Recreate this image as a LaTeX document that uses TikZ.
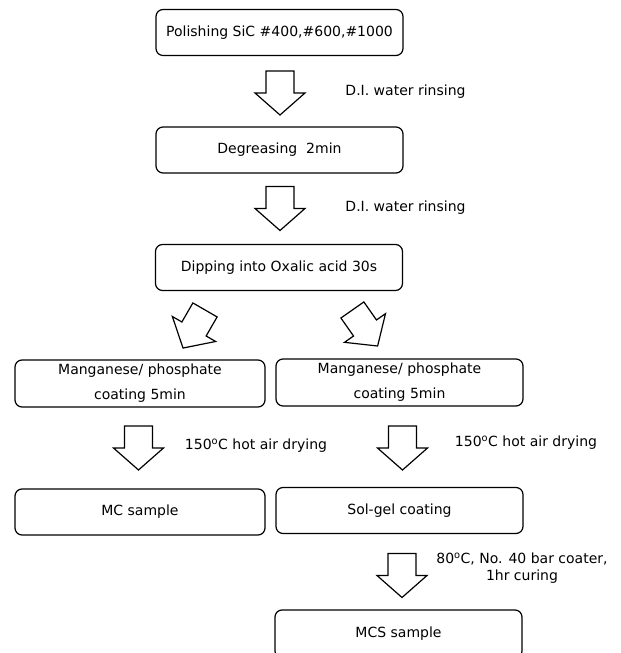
\documentclass[tikz,border=0pt]{standalone}
\usepackage{fontspec}
\setmainfont{DejaVu Sans}
\begin{document}
\begin{tikzpicture}[x=1bp,y=1bp,
  box/.style={draw, line width=1.2bp, rounded corners=7bp, minimum width=247bp, minimum height=46bp, inner sep=0pt, align=center, font=\fontsize{14bp}{25bp}\selectfont},
  lbl/.style={font=\fontsize{14bp}{17bp}\selectfont, align=center, inner sep=0pt},
  blockarrow/.pic={\draw[line width=1.2bp, line join=miter] (-14,22) -- (14,22) -- (14,0) -- (25,0) -- (0,-22) -- (-25,0) -- (-14,0) -- cycle;}
]
\useasboundingbox (0,0) rectangle (621,653);
\clip (0,0) rectangle (621,653);
% boxes
\node[box] (polish) at (279.5,620.5) {Polishing SiC \#400,\#600,\#1000};
\node[box] (degrease) at (279.5,503) {Degreasing\ \ 2min};
\node[box] (dip) at (279,385.5) {Dipping into Oxalic acid 30s};
\node[box, minimum width=250bp, minimum height=47bp] (mnL) at (140,269.5) {Manganese/ phosphate\\coating 5min};
\node[box, minimum height=47bp] (mnR) at (399.5,270.5) {Manganese/ phosphate\\coating 5min};
\node[box, minimum width=250bp] (mc) at (140,141) {MC sample};
\node[box] (sol) at (399.5,142.5) {Sol-gel coating};
\node[box, minimum height=48bp] (mcs) at (398.5,19) {MCS sample};
% block arrows
\pic at (280,560) {blockarrow};
\pic at (280,444.5) {blockarrow};
\pic[rotate=-30] at (194,324) {blockarrow};
\pic[rotate=35] at (365,325) {blockarrow};
\pic at (138.5,205) {blockarrow};
\pic at (402.5,205) {blockarrow};
\pic at (402,77.5) {blockarrow};
% labels
\node[lbl] (rinse1) at (405.5,561) {D.I. water rinsing};
\node[lbl] (rinse2) at (405.5,445) {D.I. water rinsing};
\node[lbl] (dryL) at (256,207) {150\textsuperscript{o}C hot air drying};
\node[lbl] (dryR) at (526,210) {150\textsuperscript{o}C hot air drying};
\node[lbl] (cure) at (522,84.5) {80\textsuperscript{o}C, No. 40 bar coater,\\1hr curing};
\end{tikzpicture}
\end{document}
